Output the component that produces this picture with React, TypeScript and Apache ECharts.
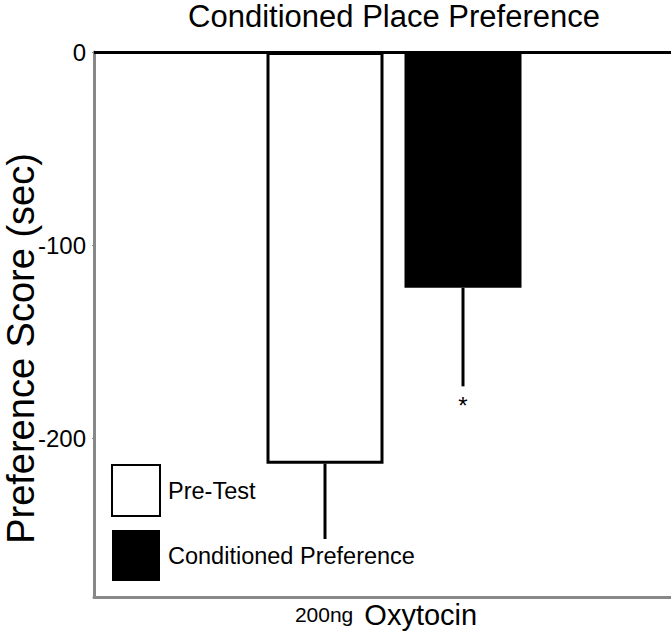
import React, { useEffect, useRef } from "react";
import * as echarts from "echarts";

const categories = ["200ng Oxytocin"];
const seriesNames = ["Pre-Test", "Conditioned Preference"];
const preTest = [-213];
const preTestSem = [39];
const conditioned = [-122];
const conditionedSem = [51];
const significance = ["", "*"];
const yTicks = [0, -100, -200];
const yMin = -282;
const yMax = 0;

const SANS = '"Liberation Sans", Arial, sans-serif';

const BAR_W = 117;
const BAR_GAP = 21;

function errorSeries(name: string, values: number[], sems: number[], offset: number, mark: string) {
  return {
    type: "custom",
    name: name + " SEM",
    silent: true,
    z: 5,
    data: values.map((v, i) => [i, v, sems[i]]),
    encode: { x: 0, y: 1 },
    renderItem: (params: any, api: any) => {
      const cat = api.value(0);
      const v = api.value(1);
      const s = api.value(2);
      const p0 = api.coord([cat, v]);
      const p1 = api.coord([cat, v - s]);
      const x = p0[0] + offset;
      const children: any[] = [
        {
          type: "line",
          shape: { x1: x, y1: p0[1], x2: x, y2: p1[1] },
          style: { stroke: "#000", lineWidth: 3 },
        },
      ];
      if (mark) {
        children.push({
          type: "text",
          style: {
            text: mark,
            x: x,
            y: p1[1] + 7,
            fill: "#000",
            fontSize: 24,
            fontFamily: SANS,
            align: "center",
            verticalAlign: "top",
          },
        });
      }
      return { type: "group", children };
    },
  };
}

export default function App() {
  const ref = useRef<HTMLDivElement>(null);
  useEffect(() => {
    if (!ref.current) return;
    const chart = echarts.init(ref.current, undefined, { renderer: "svg" });
    const half = (BAR_W + BAR_GAP) / 2;
    chart.setOption({
      animation: false,
      backgroundColor: "#fff",
      title: {
        text: "Conditioned Place Preference",
        left: 394,
        top: 1,
        textAlign: "center",
        padding: 0,
        textStyle: { fontFamily: SANS, fontSize: 31, fontWeight: "normal", color: "#000" },
      },
      legend: {
        orient: "vertical",
        left: 111,
        top: 464,
        padding: 0,
        itemWidth: 48,
        itemHeight: 51,
        itemGap: 13,
        icon: "rect",
        data: seriesNames,
        textStyle: { fontFamily: SANS, fontSize: 23.5, color: "#000", padding: [0, 0, 0, 3] },
        selectedMode: false,
      },
      grid: { left: 94, right: -23, top: 52, bottom: 40, outerBoundsMode: "none", containLabel: false },
      xAxis: {
        type: "category",
        data: categories,
        axisLine: { show: true, onZero: false, lineStyle: { color: "#888", width: 3 } },
        axisTick: { show: false },
        axisLabel: {
          margin: 3,
          padding: [0, 16, 0, 0],
          color: "#000",
          formatter: (v: string) => {
            const parts = v.split(" ");
            return "{a|" + parts[0] + "}{b| " + parts.slice(1).join(" ") + "}";
          },
          rich: {
            a: { fontFamily: SANS, fontSize: 21, color: "#000", padding: [0, 3, 0, 0] },
            b: { fontFamily: SANS, fontSize: 29, color: "#000" },
          },
        },
      },
      yAxis: {
        type: "value",
        min: yMin,
        max: yMax,
        name: "Preference Score (sec)",
        nameLocation: "middle",
        nameRotate: 90,
        nameGap: 54,
        nameMoveOverlap: false,
        nameTextStyle: { fontFamily: SANS, fontSize: 38, color: "#000", padding: [0, 48, 0, 0] },
        axisLine: { show: true, lineStyle: { color: "#888", width: 3 } },
        axisTick: { show: true, length: 2, customValues: yTicks, lineStyle: { color: "#888" } },
        axisLabel: {
          customValues: yTicks,
          margin: 8,
          color: "#000",
          fontFamily: SANS,
          fontSize: 24,
        },
        splitLine: { show: false },
      },
      series: [
        {
          type: "bar",
          name: seriesNames[0],
          data: preTest,
          barWidth: BAR_W,
          barGap: (BAR_GAP / BAR_W) * 100 + "%",
          itemStyle: { color: "#fff", borderColor: "#000", borderWidth: 3 },
          markLine: {
            silent: true,
            symbol: "none",
            label: { show: false },
            lineStyle: { color: "#000", width: 3, type: "solid" },
            data: [{ yAxis: 0 }],
          },
        },
        {
          type: "bar",
          name: seriesNames[1],
          data: conditioned,
          barWidth: BAR_W,
          itemStyle: { color: "#000", borderColor: "#000", borderWidth: 0 },
        },
        errorSeries(seriesNames[0], preTest, preTestSem, -half, significance[0]),
        errorSeries(seriesNames[1], conditioned, conditionedSem, half, significance[1]),
      ],
    });
    return () => chart.dispose();
  }, []);
  return <div ref={ref} style={{ width: 671, height: 637, position: "absolute", left: 0, top: 0 }} />;
}
